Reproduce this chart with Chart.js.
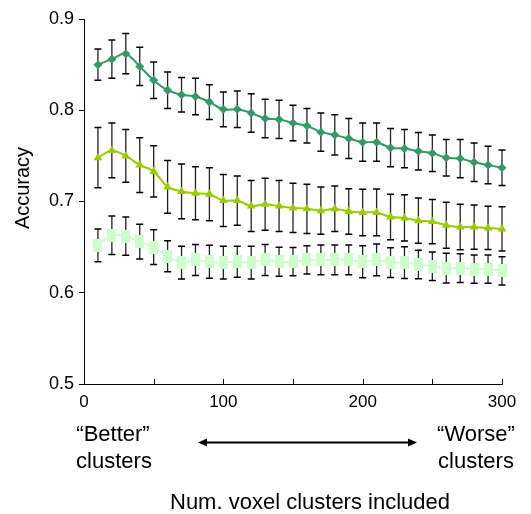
<!DOCTYPE html>
<html>
<head>
<meta charset="utf-8">
<script src="https://cdn.jsdelivr.net/npm/chart.js@4/dist/chart.umd.min.js"></script>
<style>
  html, body { margin: 0; padding: 0; background: #fff; }
  #wrap { width: 531px; height: 514px; }
</style>
</head>
<body>
<div id="wrap"><canvas id="grafico" width="531" height="514"></canvas></div>
<script>
// clusters included (x)
const clusters = [10,20,30,40,50,60,70,80,90,100,110,120,130,140,150,160,170,180,190,200,210,220,230,240,250,260,270,280,290,300]

// mean accuracy per series
const accDiamond = [0.850,0.856,0.862,0.848,0.833,0.822,0.817,0.815,0.809,0.801,0.801,0.797,0.791,0.790,0.786,0.783,0.776,0.773,0.769,0.765,0.765,0.759,0.758,0.755,0.753,0.748,0.747,0.743,0.740,0.737]
const accTriangle = [0.748,0.756,0.750,0.740,0.733,0.716,0.711,0.709,0.708,0.701,0.701,0.695,0.697,0.695,0.693,0.692,0.690,0.692,0.689,0.688,0.688,0.683,0.682,0.679,0.678,0.674,0.672,0.672,0.671,0.670]
const accSquare = [0.652,0.663,0.662,0.656,0.650,0.640,0.633,0.636,0.634,0.633,0.634,0.633,0.636,0.634,0.634,0.636,0.636,0.636,0.636,0.634,0.636,0.633,0.633,0.631,0.629,0.627,0.627,0.626,0.626,0.624]

// error bar half heights
const errDiamond = [0.017,0.021,0.022,0.021,0.020,0.020,0.019,0.020,0.019,0.019,0.020,0.021,0.021,0.021,0.0195,0.019,0.021,0.022,0.022,0.021,0.021,0.021,0.021,0.0205,0.020,0.020,0.021,0.021,0.0205,0.0195]
const errTriangle = [0.033,0.030,0.029,0.030,0.028,0.029,0.030,0.029,0.029,0.0285,0.027,0.028,0.0285,0.028,0.027,0.027,0.026,0.025,0.025,0.0254,0.0256,0.025,0.0254,0.0247,0.0243,0.0252,0.025,0.0243,0.0237,0.0243]
const errSquare = [0.018,0.021,0.021,0.019,0.019,0.017,0.018,0.017,0.018,0.018,0.017,0.018,0.017,0.016,0.0155,0.0155,0.0164,0.0164,0.0164,0.0175,0.0175,0.0164,0.0173,0.0157,0.0157,0.0163,0.0157,0.0155,0.0155,0.0155]

const yTicks = [0.5,0.6,0.7,0.8,0.9]
const xLabeled = [0,100,200,300]

const fuente = "'Liberation Sans', Arial, sans-serif"

// tall light-green box used as marker
let caja = document.createElement('canvas')
caja.width = 9
caja.height = 13
let cctx = caja.getContext('2d')
cctx.fillStyle = '#ccffcc'
cctx.fillRect(0, 0, 9, 13)

function serie(valores, errores, color, estilo, radio) {
    return {
        data: clusters.map((x, i) => ({x: x, y: valores[i]})),
        errores: errores,
        borderColor: color,
        backgroundColor: color,
        borderWidth: 2,
        pointStyle: estilo,
        pointRadius: radio,
        pointBorderWidth: 0,
        pointBackgroundColor: color,
        tension: 0.3,
        clip: false
    }
}

const barrasError = {
    id: 'barrasError',
    beforeDatasetsDraw(chart) {
        const ctx = chart.ctx
        const y = chart.scales.y
        ctx.save()
        chart.data.datasets.forEach((ds, k) => {
            const meta = chart.getDatasetMeta(k)
            meta.data.forEach((pt, j) => {
                const v = ds.data[j].y
                const arriba = y.getPixelForValue(v + ds.errores[j])
                const abajo = y.getPixelForValue(v - ds.errores[j])
                ctx.strokeStyle = '#222'
                ctx.lineWidth = 1.3
                ctx.beginPath()
                ctx.moveTo(pt.x, arriba)
                ctx.lineTo(pt.x, abajo)
                ctx.stroke()
                ctx.strokeStyle = '#000'
                ctx.lineWidth = 1.5
                ctx.beginPath()
                ctx.moveTo(pt.x - 3.5, arriba)
                ctx.lineTo(pt.x + 3.5, arriba)
                ctx.moveTo(pt.x - 3.5, abajo)
                ctx.lineTo(pt.x + 3.5, abajo)
                ctx.stroke()
            })
        })
        ctx.restore()
    }
}

const textos = {
    id: 'textos',
    afterDraw(chart) {
        const ctx = chart.ctx
        const a = chart.chartArea
        const x = chart.scales.x
        ctx.save()
        // inward ticks on the x axis
        ctx.strokeStyle = '#000'
        ctx.lineWidth = 1
        x.ticks.forEach(t => {
            const px = Math.round(x.getPixelForValue(t.value)) + 0.5
            ctx.beginPath()
            ctx.moveTo(px, a.bottom)
            ctx.lineTo(px, a.bottom - 5)
            ctx.stroke()
        })
        ctx.fillStyle = '#000'
        ctx.textBaseline = 'alphabetic'
        // y title
        ctx.save()
        ctx.translate(29, 188)
        ctx.rotate(-Math.PI / 2)
        ctx.textAlign = 'center'
        ctx.font = '20px ' + fuente
        ctx.fillText('Accuracy', 0, 0)
        ctx.restore()
        // better / worse labels
        ctx.font = '22px ' + fuente
        ctx.textAlign = 'center'
        ctx.fillText('\u201cBetter\u201d', a.left + 29, 441)
        ctx.fillText('clusters', a.left + 30, 468)
        ctx.fillText('\u201cWorse\u201d', a.right - 26, 441)
        ctx.fillText('clusters', a.right - 26, 468)
        ctx.fillText('Num. voxel clusters included', a.left + 226, 509)
        // double arrow
        const x1 = 198, x2 = 417, ya = 442.5
        ctx.lineWidth = 2.2
        ctx.beginPath()
        ctx.moveTo(x1 + 4, ya)
        ctx.lineTo(x2 - 4, ya)
        ctx.stroke()
        ctx.beginPath()
        ctx.moveTo(x1, ya)
        ctx.lineTo(x1 + 9, ya - 4)
        ctx.lineTo(x1 + 9, ya + 4)
        ctx.closePath()
        ctx.moveTo(x2, ya)
        ctx.lineTo(x2 - 9, ya - 4)
        ctx.lineTo(x2 - 9, ya + 4)
        ctx.closePath()
        ctx.fill()
        ctx.restore()
    }
}

const config = {
    type: 'line',
    data: {
        datasets: [
            serie(accSquare, errSquare, '#ccffcc', caja, 5),
            serie(accTriangle, errTriangle, '#99cc00', 'triangle', 5),
            serie(accDiamond, errDiamond, '#339966', 'rectRot', 4.5)
        ]
    },
    options: {
        responsive: false,
        animation: false,
        layout: { padding: { top: 19, right: 29, left: 0, bottom: 0 } },
        plugins: {
            legend: { display: false },
            tooltip: { enabled: false }
        },
        scales: {
            x: {
                type: 'linear',
                min: 0,
                max: 300,
                ticks: {
                    stepSize: 50,
                    color: '#000',
                    font: { family: fuente, size: 17 },
                    padding: 8,
                    maxRotation: 0,
                    autoSkip: false,
                    callback: v => xLabeled.includes(v) ? String(v) : ''
                },
                grid: { display: true, drawOnChartArea: false, drawTicks: false },
                border: { color: '#000', width: 1 },
                afterFit: s => { s.height = 130 }
            },
            y: {
                min: 0.5,
                max: 0.9,
                afterBuildTicks: s => { s.ticks = yTicks.map(v => ({value: v})) },
                ticks: {
                    color: '#000',
                    font: { family: fuente, size: 18 },
                    padding: 5,
                    callback: v => v.toFixed(1)
                },
                grid: { drawOnChartArea: false, drawTicks: true, tickLength: 5, tickColor: '#000' },
                border: { color: '#000', width: 1 },
                afterFit: s => { s.width = 84 }
            }
        }
    },
    plugins: [barrasError, textos]
}

const myChart = new Chart(document.getElementById('grafico'), config)
</script>
</body>
</html>
